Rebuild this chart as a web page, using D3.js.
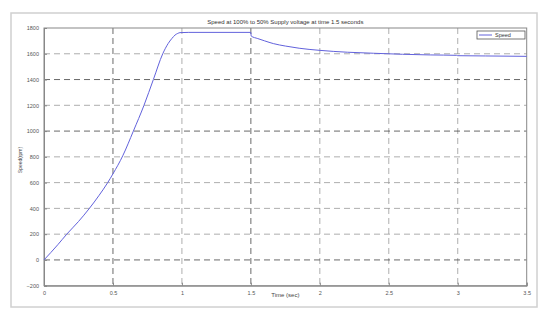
<!DOCTYPE html>
<html lang="en">
<head>
  <meta charset="UTF-8">
  <title>Speed</title>
  <style>
    body, html {
      margin: 0;
      background-color: white;
    }
    text {
      font-family: 'Liberation Sans', Arial, sans-serif;
    }
  </style>
</head>
<body>
  <svg id="svg" width="550" height="321"></svg>
  <script src="https://d3js.org/d3.v7.min.js"></script>
  <script>
    // speed curve
    const time = [0, 0.05, 0.1, 0.165, 0.25, 0.329, 0.4, 0.462, 0.5, 0.571, 0.648, 0.725, 0.793, 0.861, 0.9, 0.926, 0.95, 0.97, 0.986, 1.05, 1.5,
      1.502, 1.55, 1.6, 1.663, 1.75, 1.85, 1.994, 2.2, 2.39, 2.6, 2.8, 2.99, 3.0, 3.2, 3.5]
    const speed = [0, 58, 118, 200, 298, 400, 502, 600, 668, 808, 1000, 1200, 1400, 1600, 1679, 1717, 1745, 1758, 1764, 1766, 1766,
      1738, 1718, 1700, 1679, 1660, 1643, 1627, 1612, 1604, 1596, 1591, 1588, 1585, 1583, 1580]
    const xTicks = [0, 0.5, 1, 1.5, 2, 2.5, 3, 3.5]
    const yTicks = [-200, 0, 200, 400, 600, 800, 1000, 1200, 1400, 1600, 1800]
    const darkX = [0.5, 1.5]
    const darkY = [0, 1000, 1400]

    const mLeft = 44, mRight = 526.7, mTop = 28, mBottom = 285.7
    const svg = d3.select('#svg')

    svg.append('rect')
      .attr('x', 11).attr('y', 13)
      .attr('width', 526).attr('height', 294)
      .attr('fill', 'white')
      .attr('stroke', '#d0d0d0')
      .attr('stroke-width', 1.5)

    const xScale = d3.scaleLinear().domain([0, 3.5]).range([mLeft, mRight])
    const yScale = d3.scaleLinear().domain([-200, 1800]).range([mBottom, mTop])

    // grid
    svg.append('g')
      .selectAll('line')
      .data(xTicks.slice(1, -1))
      .enter()
      .append('line')
      .attr('x1', d => xScale(d)).attr('x2', d => xScale(d))
      .attr('y1', mTop).attr('y2', mBottom)
      .attr('stroke', d => darkX.includes(d) ? '#444' : '#999')
      .attr('stroke-width', 0.8)
      .attr('stroke-dasharray', '6,4')
    svg.append('g')
      .selectAll('line')
      .data(yTicks.slice(1, -1))
      .enter()
      .append('line')
      .attr('x1', mLeft).attr('x2', mRight)
      .attr('y1', d => yScale(d)).attr('y2', d => yScale(d))
      .attr('stroke', d => darkY.includes(d) ? '#444' : '#999')
      .attr('stroke-width', 0.8)
      .attr('stroke-dasharray', '6,4')

    // axes
    const bottomAxis = d3.axisBottom(xScale).tickValues(xTicks).tickSize(-3).tickPadding(5).tickFormat(d3.format('~g'))
    const leftAxis = d3.axisLeft(yScale).tickValues(yTicks).tickSize(-3).tickPadding(5).tickFormat(d3.format('d'))
    const gx = svg.append('g')
      .attr('transform', `translate(0, ${mBottom})`)
      .call(bottomAxis)
    const gy = svg.append('g')
      .attr('transform', `translate(${mLeft}, 0)`)
      .call(leftAxis)
    ;[gx, gy].forEach(g => {
      g.select('.domain').attr('stroke', '#888')
      g.selectAll('.tick line').attr('stroke', '#888')
      g.selectAll('text').style('font-size', '5.5px').attr('fill', '#555')
    })
    svg.append('rect')
      .attr('x', mLeft).attr('y', mTop)
      .attr('width', mRight - mLeft).attr('height', mBottom - mTop)
      .attr('fill', 'none')
      .attr('stroke', '#888')
      .attr('stroke-width', 1)

    // curve
    const line = d3.line()
      .x((d, i) => xScale(time[i]))
      .y(d => yScale(d))
      .curve(d3.curveMonotoneX)
    svg.append('path')
      .datum(speed)
      .attr('d', line)
      .attr('fill', 'none')
      .attr('stroke', '#6262dc')
      .attr('stroke-width', 1)

    // texts
    svg.append('text')
      .attr('x', (mLeft + mRight) / 2).attr('y', 24)
      .attr('text-anchor', 'middle')
      .style('font-size', '6px')
      .attr('fill', '#333')
      .text('Speed at 100% to 50% Supply voltage at time 1.5 seconds')
    svg.append('text')
      .attr('x', xScale(1.75)).attr('y', 297)
      .attr('text-anchor', 'middle')
      .style('font-size', '6px')
      .attr('fill', '#444')
      .text('Time (sec)')
    svg.append('text')
      .attr('transform', 'translate(22, 160) rotate(-90)')
      .attr('text-anchor', 'middle')
      .style('font-size', '5px')
      .attr('fill', '#444')
      .text('Speed(rpm)')

    // legend
    const lg = svg.append('g')
    lg.append('rect')
      .attr('x', 477).attr('y', 31)
      .attr('width', 48).attr('height', 8)
      .attr('fill', 'white')
      .attr('stroke', '#555')
      .attr('stroke-width', 0.8)
    lg.append('line')
      .attr('x1', 479).attr('x2', 492)
      .attr('y1', 35).attr('y2', 35)
      .attr('stroke', '#6262dc')
    lg.append('text')
      .attr('x', 495).attr('y', 37)
      .style('font-size', '5.5px')
      .attr('fill', '#333')
      .text('Speed')
  </script>
</body>
</html>
